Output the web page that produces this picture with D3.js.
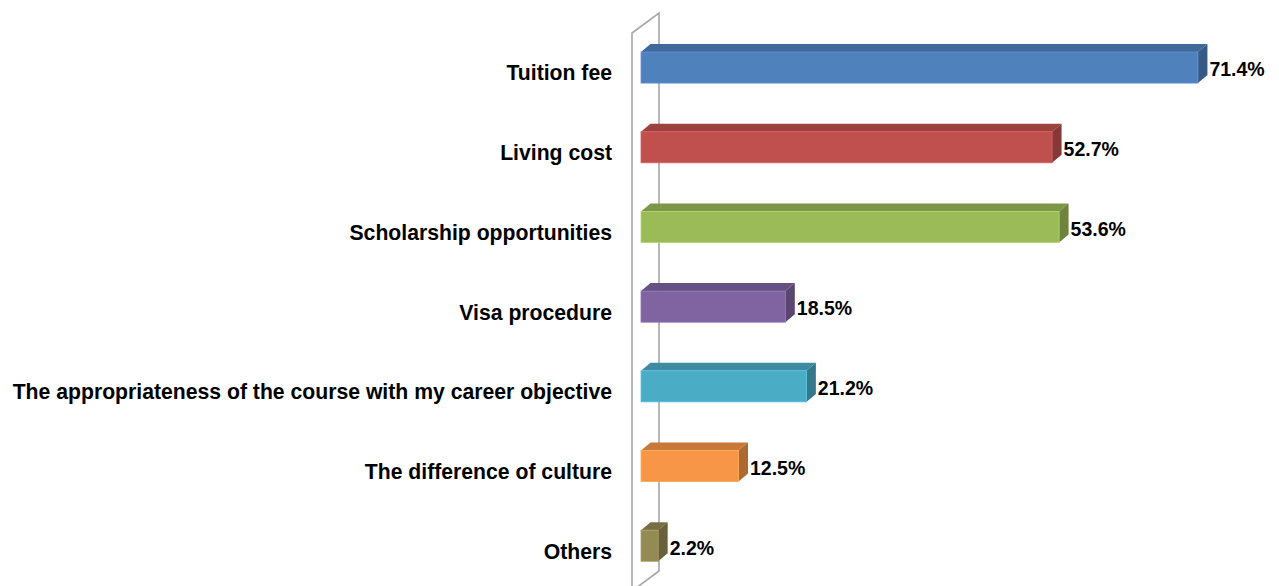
<!DOCTYPE html>
<html>
<head>
<meta charset="utf-8">
<script src="https://cdn.jsdelivr.net/npm/d3@7/dist/d3.min.js"></script>
<style>
  html, body { margin: 0; padding: 0; background: #ffffff; }
  svg { display: block; }
  text { font-family: "Liberation Sans", Arial, sans-serif; font-weight: bold; fill: #000; }
</style>
</head>
<body>
<svg id="chart" width="1279" height="586"></svg>
<script>
// Reasons for choosing a study destination (% of respondents)
const categories = [
  "Tuition fee",
  "Living cost",
  "Scholarship opportunities",
  "Visa procedure",
  "The appropriateness of the course with my career objective",
  "The difference of culture",
  "Others"
];
const values = [71.4, 52.7, 53.6, 18.5, 21.2, 12.5, 2.2];
const valueLabels = ["71.4%", "52.7%", "53.6%", "18.5%", "21.2%", "12.5%", "2.2%"];
const colors = ["#4F81BD", "#C0504D", "#9BBB59", "#8064A2", "#4BACC6", "#F79646", "#948A54"];

const svg = d3.select("#chart");

// horizontal value scale, 0 at the front edge of the bars
const x = d3.scaleLinear().domain([0, 80]).range([641, 1265]);
// category bands
const y = d3.scaleBand().domain(categories)
  .range([27.7, 585.6]).paddingInner(0.61).paddingOuter(0.305);

// 3-D depth offsets
const bdx = 9.5, bdy = 8;        // bar depth
const wdx = 27, wdy = 20;         // wall depth

// side wall behind the bars (outline only)
const wallFront = x(0) - 9, wallBack = wallFront + wdx;
const wallTop = 33, wallBottom = 591;
const wall = svg.append("g").attr("fill", "none").attr("stroke", "#A6A6A6").attr("stroke-width", 1.6);
wall.append("path").attr("d",
  `M${wallFront},${wallBottom + 20} L${wallFront},${wallTop} L${wallBack},${wallTop - wdy} L${wallBack},${wallBottom - wdy} L${wallFront},${wallBottom}`);

// bars
const bars = svg.append("g");
categories.forEach((c, i) => {
  const v = values[i];
  const x0 = x(0), x1 = x(v);
  const y0 = y(c), h = y.bandwidth();
  const base = d3.color(colors[i]);
  const g = bars.append("g");
  // top face
  g.append("path")
    .attr("d", `M${x0},${y0} L${x0 + bdx},${y0 - bdy} L${x1 + bdx},${y0 - bdy} L${x1},${y0} Z`)
    .attr("fill", base.darker(0.6).formatHex());
  // end face
  g.append("path")
    .attr("d", `M${x1},${y0} L${x1 + bdx},${y0 - bdy} L${x1 + bdx},${y0 + h - bdy} L${x1},${y0 + h} Z`)
    .attr("fill", base.darker(1.0).formatHex());
  // front face
  g.append("rect")
    .attr("x", x0).attr("y", y0)
    .attr("width", x1 - x0).attr("height", h)
    .attr("fill", base.formatHex())
    .attr("stroke", base.brighter(0.4).formatHex())
    .attr("stroke-width", 0.8);
  // value label
  svg.append("text")
    .attr("x", x1 + bdx + 2)
    .attr("y", y0 + h / 2 + 2)
    .attr("dy", "0.35em")
    .attr("font-size", "19.5px")
    .text(valueLabels[i]);
});

// category labels
svg.append("g").selectAll("text")
  .data(categories)
  .join("text")
  .attr("x", 612)
  .attr("y", d => y(d) + y.bandwidth() / 2 + 5.5)
  .attr("dy", "0.35em")
  .attr("text-anchor", "end")
  .attr("font-size", "21.2px")
  .text(d => d);
</script>
</body>
</html>
